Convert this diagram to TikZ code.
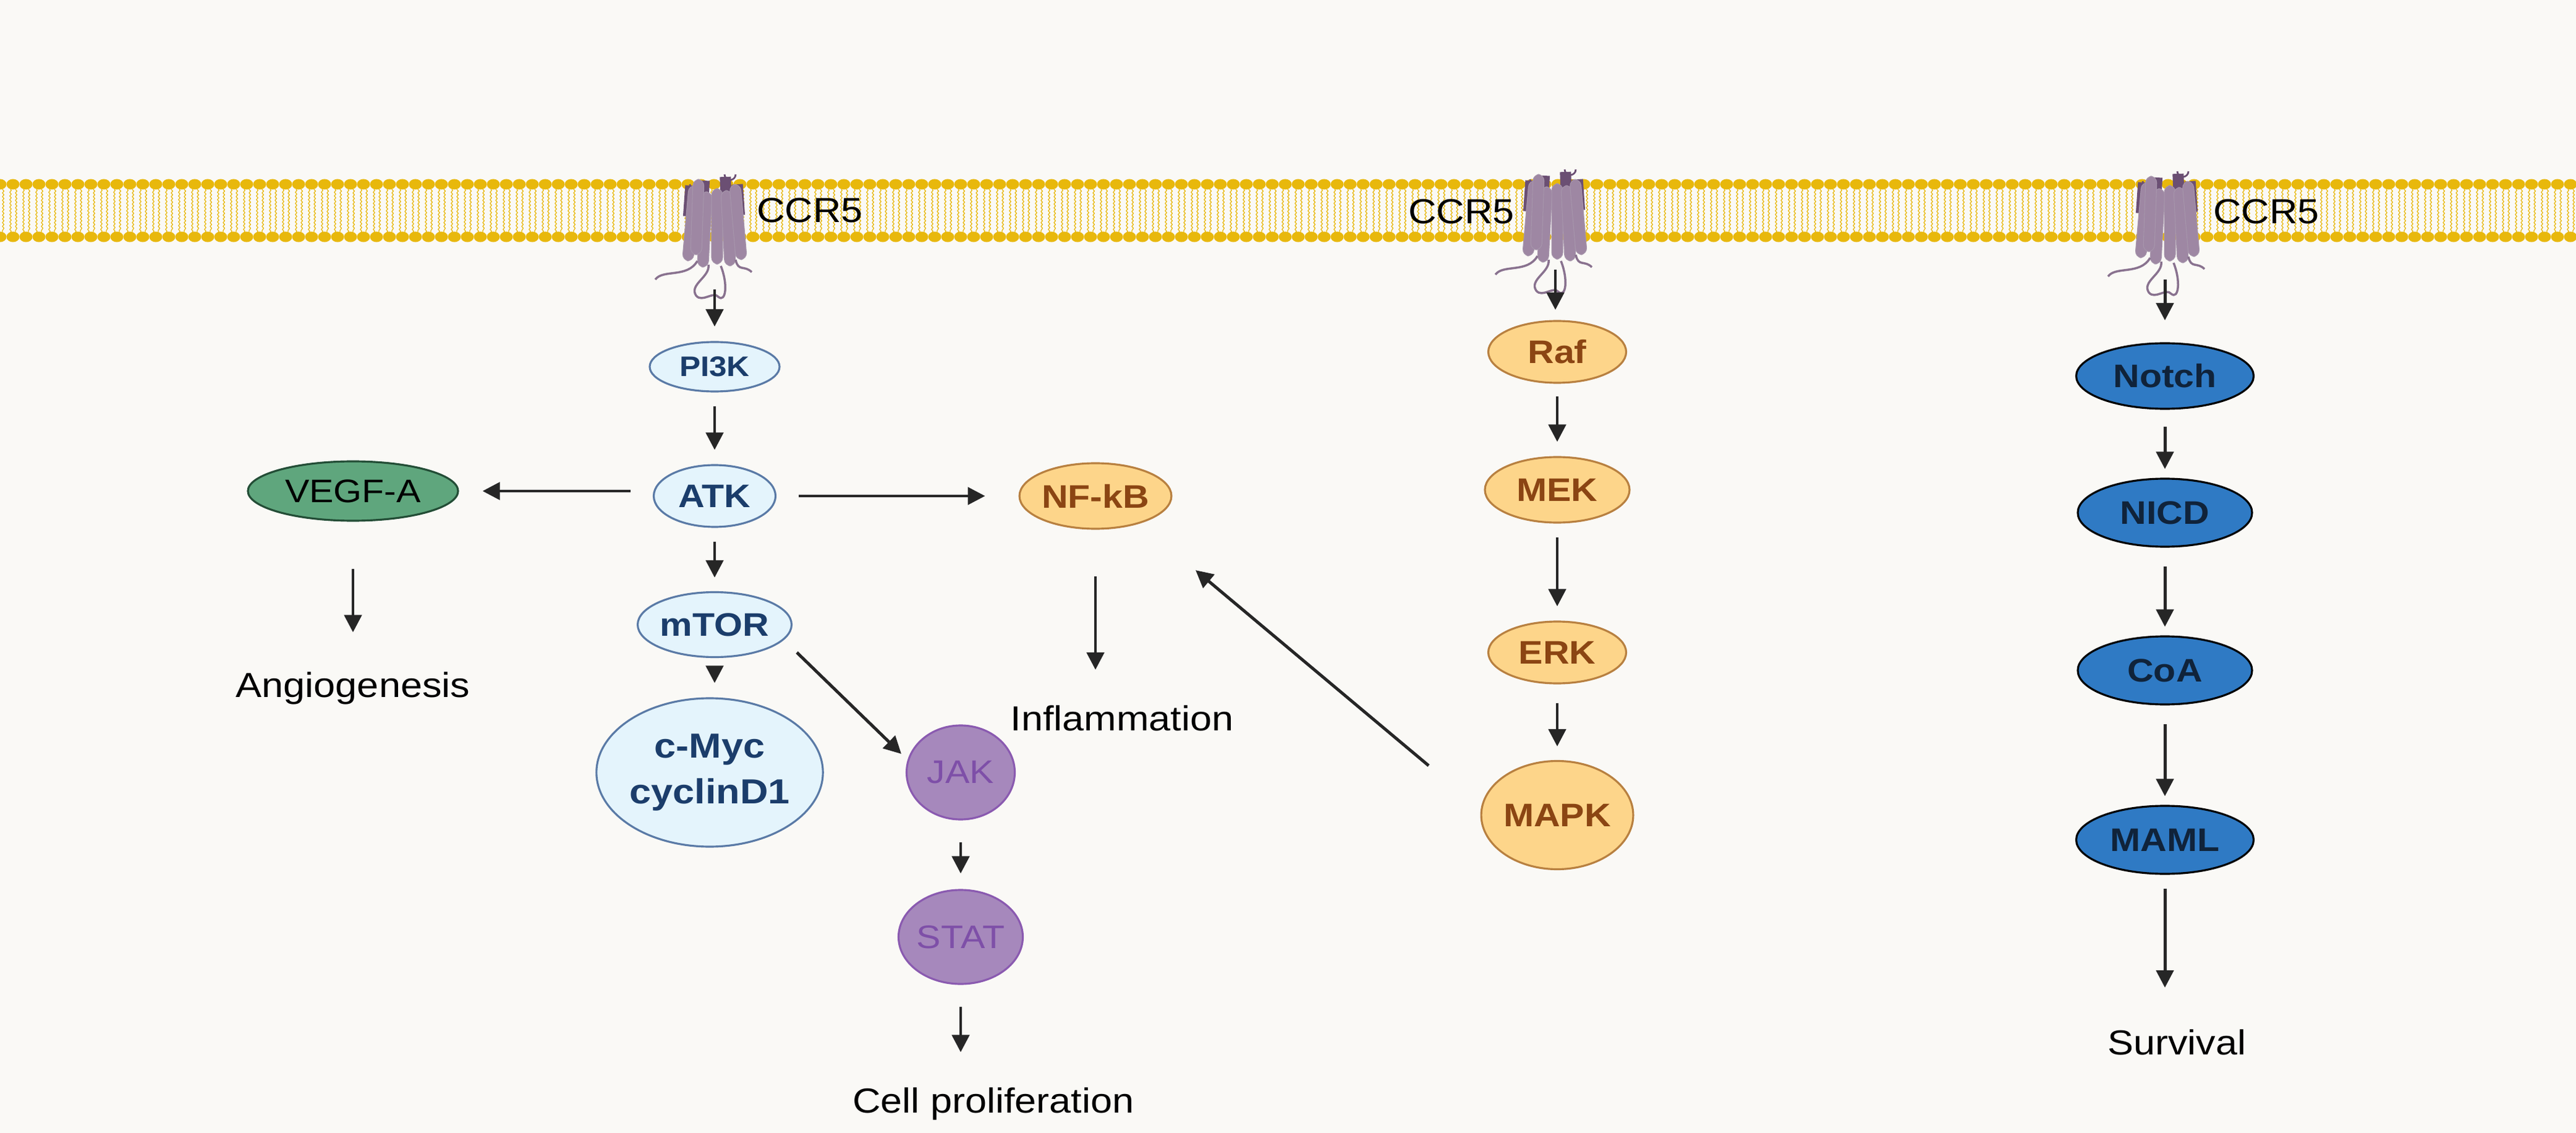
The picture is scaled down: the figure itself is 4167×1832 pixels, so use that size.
\documentclass[tikz,border=0pt]{standalone}
\usepackage{fontspec}
\setmainfont{Liberation Sans}[FakeStretch=1.12]
\usetikzlibrary{shapes.geometric,arrows.meta,decorations.pathmorphing}

\definecolor{bgcol}{HTML}{FAF9F6}
\definecolor{lipid}{HTML}{E8B80C}
\definecolor{recep}{HTML}{9E87A3}
\definecolor{recepdark}{HTML}{6B4F73}
\definecolor{akfill}{HTML}{E4F4FC}
\definecolor{akdraw}{HTML}{5A7AA6}
\definecolor{aktext}{HTML}{1B3D6B}
\definecolor{rffill}{HTML}{FDD58A}
\definecolor{rfdraw}{HTML}{B88040}
\definecolor{rftext}{HTML}{8B4513}
\definecolor{vgfill}{HTML}{5FA67D}
\definecolor{vgdraw}{HTML}{234D36}
\definecolor{jkfill}{HTML}{A688BC}
\definecolor{jkdraw}{HTML}{8A5AB0}
\definecolor{jktext}{HTML}{7E4FA8}
\definecolor{ntfill}{HTML}{2F7AC4}
\definecolor{nttext}{HTML}{10233A}

\newcommand\headSep{21}
\newcommand\upperRow{298}
\newcommand\lowerRow{383}

\tikzset{
  mol/.style={ellipse, line width=0.9pt, inner sep=0pt, font=\fontsize{15}{18}\selectfont\bfseries},
  akt/.style={mol, fill=akfill, draw=akdraw, text=aktext},
  raf/.style={mol, fill=rffill, draw=rfdraw, text=rftext},
  notch/.style={mol, fill=ntfill, draw=black, text=nttext},
  jk/.style={mol, fill=jkfill, draw=jkdraw, text=jktext, font=\fontsize{15}{18}\selectfont, minimum width=17.5mm, minimum height=15.2mm},
  lbl/.style={font=\fontsize{16}{18}\selectfont, text=black},
  sig/.style={-{Triangle[length=2.8mm,width=2.8mm]}, line width=1.4pt, draw=black!85},
  receptor/.pic={
    \foreach \dx/\dy/\rot in {-36/-10/-4,-14/-18/-3,22/-24/2,42/-12/4}
      \fill[recepdark, rotate around={\rot:(\dx,\dy)}] (\dx-9,\dy-20) rectangle (\dx+9,\dy+30);
    \draw[recepdark, line width=0.8pt] (-36,-32) arc (180:0:8) (20,-48) arc (180:0:9);
    \foreach \dx/\dy/\rot in {-34/30/-5,-12/40/-3,-24/20/-2,8/35/0,26/38/3,42/28/5}
      \fill[recep, draw=recepdark!60, line width=0.3pt, rotate around={\rot:(\dx,\dy)}, rounded corners=3pt] (\dx-9,\dy-60) rectangle (\dx+9,\dy+62);
    \draw[recepdark!80, line width=1pt] (-24,92) .. controls (-40,120) and (-80,105) .. (-92,122)
      (-6,98) .. controls (-3,118) and (-38,130) .. (-26,148) .. controls (-16,160) and (2,140) .. (10,150)
      .. controls (22,160) and (26,130) .. (14,100)
      (38,90) .. controls (42,110) and (52,98) .. (64,110);
  }
}

\begin{document}
\begin{tikzpicture}[x=0.1mm, y=-0.1mm]
  \fill[bgcol] (0,0) rectangle (4167,1832);
  \useasboundingbox (0,0) rectangle (4167,1832);

  % membrane
  \foreach \hx in {0,\headSep,...,4180}{
    \draw[lipid, line width=0.35pt, decorate, decoration={snake, amplitude=0.12mm, segment length=0.6mm}]
      (\hx-4,\upperRow+8) -- (\hx-4,\lowerRow-8) (\hx+4,\upperRow+8) -- (\hx+4,\lowerRow-8);
    \fill[lipid] (\hx,\upperRow) ellipse (10.5 and 8.5) (\hx,\lowerRow) ellipse (10.5 and 8.5);
  }

  % receptors
  \pic at (1152,330) {receptor};
  \pic at (2511,322) {receptor};
  \pic at (3502,325) {receptor};
  \node[lbl, anchor=west] (ccrA) at (1212,340) {CCR5};
  \node[lbl, anchor=east] (ccrB) at (2462,342) {CCR5};
  \node[lbl, anchor=west] (ccrC) at (3568,342) {CCR5};
  \coordinate (outA) at (1156,468);
  \coordinate (outB) at (2516,436);
  \coordinate (outC) at (3502,452);

  % PI3K branch
  \node[akt, minimum width=21mm, minimum height=8mm, font=\fontsize{13}{16}\selectfont\bfseries] (pik) at (1156,593) {PI3K};
  \node[akt, minimum width=19.7mm, minimum height=10mm] (atk) at (1156,802) {ATK};
  \node[akt, minimum width=21.5mm, minimum height=10.5mm] (mtor) at (1156,1010) {mTOR};
  \node[akt, minimum width=35.6mm, minimum height=24mm, align=center, font=\fontsize{16}{21}\selectfont\bfseries] (myc) at (1148,1249) {c-Myc\\cyclinD1};
  \node[mol, fill=vgfill, draw=vgdraw, text=black, font=\fontsize{15}{18}\selectfont, minimum width=34mm, minimum height=9.6mm] (vegf) at (571,794) {VEGF-A};
  \node[lbl] (angio) at (571,1113) {Angiogenesis};
  \node[raf, minimum width=23.4mm, minimum height=10.6mm] (nfkb) at (1772,802) {NF-kB};
  \node[lbl] (infl) at (1815,1161) {Inflammation};
  \node[jk] (jak) at (1554,1249) {JAK};
  \node[jk] (stat) at (1554,1515) {STAT};
  \node[lbl] (prolif) at (1607,1785) {Cell proliferation};
  \coordinate (mtorOut) at (1289,1055);
  \coordinate (jakIn) at (1458,1219);

  % MAPK branch
  \node[raf, minimum width=22.3mm, minimum height=10mm] (raf) at (2519,569) {Raf};
  \node[raf, minimum width=23.4mm, minimum height=10.6mm] (mek) at (2519,792) {MEK};
  \node[raf, minimum width=22.3mm, minimum height=10mm] (erk) at (2519,1055) {ERK};
  \node[raf, minimum width=21.8mm, minimum height=17.5mm] (mapk) at (2519,1318) {MAPK};
  \coordinate (mapkOut) at (2311,1238);
  \coordinate (nfkbIn) at (1934,922);

  % Notch branch
  \node[notch, minimum width=28.7mm, minimum height=10.6mm] (notchN) at (3502,608) {Notch};
  \node[notch, minimum width=28.2mm, minimum height=11mm] (nicd) at (3502,829) {NICD};
  \node[notch, minimum width=28.2mm, minimum height=11mm] (coa) at (3502,1084) {CoA};
  \node[notch, minimum width=28.7mm, minimum height=11mm] (maml) at (3502,1358) {MAML};
  \node[lbl] (surv) at (3521,1685) {Survival};

  % arrows
  \draw[sig] (outA) -- ++(0,60);
  \draw[sig, shorten <=2.2mm, shorten >=2.3mm] (pik) -- (atk);
  \draw[sig, shorten <=2.2mm, shorten >=2.2mm] (atk) -- (mtor);
  \draw[sig, shorten <=2.2mm, shorten >=2.3mm] (mtor) -- (mtor |- myc.north);
  \draw[sig, shorten <=3.6mm, shorten >=3.8mm] (vegf -| atk.west) -- (vegf.east);
  \draw[sig, shorten <=3.6mm, shorten >=5.4mm] (atk) -- (nfkb);
  \draw[sig, shorten <=7.6mm, shorten >=5.2mm] (vegf.south) -- (vegf.south |- angio.north);
  \draw[sig, shorten <=7.5mm, shorten >=4.5mm] (nfkb.south) -- (nfkb.south |- infl.north);
  \draw[sig] (mtorOut) -- (jakIn);
  \draw[sig, shorten <=3.5mm, shorten >=2.5mm] (jak) -- (stat);
  \draw[sig, shorten <=3.5mm, shorten >=4.5mm] (stat.south) -- (stat.south |- prolif.north);
  \draw[sig] (outB) -- ++(0,65);
  \draw[sig, shorten <=2mm, shorten >=2.3mm] (raf) -- (mek);
  \draw[sig, shorten <=2.2mm, shorten >=2.3mm] (mek) -- (erk);
  \draw[sig, shorten <=3mm, shorten >=2.2mm] (erk) -- (mapk);
  \draw[sig] (mapkOut) -- (nfkbIn);
  \draw[sig] (outC) -- ++(0,66);
  \draw[sig, shorten <=2.7mm, shorten >=1.4mm] (notchN) -- (nicd);
  \draw[sig, shorten <=3mm, shorten >=1.4mm] (nicd) -- (coa);
  \draw[sig, shorten <=3mm, shorten >=1.4mm] (coa) -- (maml);
  \draw[sig, shorten <=2.2mm, shorten >=5.5mm] (maml.south) -- (maml.south |- surv.north);
\end{tikzpicture}
\end{document}
